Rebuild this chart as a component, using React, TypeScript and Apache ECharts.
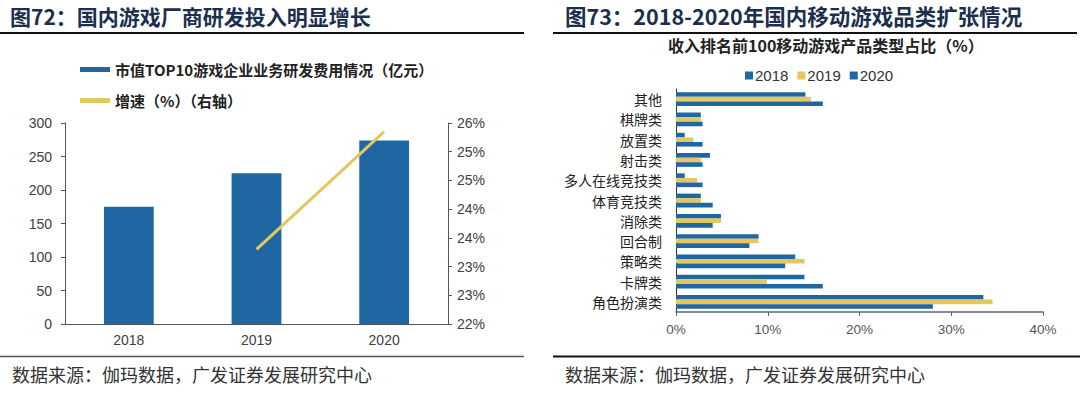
import React, { useEffect, useRef } from "react";
import * as echarts from "echarts";

// Left chart data
const years = ["2018", "2019", "2020"];
const rdExpense = [175, 225, 274];
const growth = [null, 23.3, 25.35];

// Right chart data (bottom to top)
const categories = ["角色扮演类", "卡牌类", "策略类", "回合制", "消除类", "体育竞技类", "多人在线竞技类", "射击类", "放置类", "棋牌类", "其他"];
const share2018 = [33.5, 14.0, 13.0, 9.0, 4.9, 2.7, 0.95, 3.7, 0.95, 2.7, 14.1];
const share2019 = [34.5, 9.9, 14.0, 9.0, 4.9, 2.7, 2.3, 2.7, 1.9, 2.7, 14.7];
const share2020 = [28.0, 16.0, 11.9, 8.0, 4.0, 4.0, 2.9, 2.9, 2.9, 2.9, 16.0];

const BLUE = "#1f67a3";
const YELLOW = "#e6c65f";
const CJK = "'Noto Sans CJK SC', sans-serif";
const LAT = "'Liberation Sans', Arial, sans-serif";

export default function App() {
  const ref = useRef<HTMLDivElement>(null);
  useEffect(() => {
    const chart = echarts.init(ref.current!, null, { renderer: "svg" });
    const option: any = {
      animation: false,
      backgroundColor: "#ffffff",
      graphic: [
        { type: "text", left: 10, top: 5, style: { text: "图72：国内游戏厂商研发投入明显增长", font: `bold 21px ${CJK}`, fill: "#1d2f4d" } },
        { type: "text", left: 565, top: 5, style: { text: "图73：2018-2020年国内移动游戏品类扩张情况", font: `bold 21.5px ${CJK}`, fill: "#1d2f4d" } },
        { type: "line", shape: { x1: 0, y1: 33, x2: 524, y2: 33 }, style: { stroke: "#111", lineWidth: 2 } },
        { type: "line", shape: { x1: 553, y1: 33, x2: 1077, y2: 33 }, style: { stroke: "#111", lineWidth: 2 } },
        { type: "line", shape: { x1: 0, y1: 356.5, x2: 524, y2: 356.5 }, style: { stroke: "#555", lineWidth: 1.5 } },
        { type: "line", shape: { x1: 553, y1: 356.5, x2: 1080, y2: 356.5 }, style: { stroke: "#111", lineWidth: 2 } },
        { type: "text", left: 12, top: 365, style: { text: "数据来源：伽玛数据，广发证券发展研究中心", font: `18px ${CJK}`, fill: "#333" } },
        { type: "text", left: 565, top: 365, style: { text: "数据来源：伽玛数据，广发证券发展研究中心", font: `18px ${CJK}`, fill: "#333" } },
        { type: "text", left: 668, top: 37, style: { text: "收入排名前100移动游戏产品类型占比（%）", font: `bold 16px ${CJK}`, fill: "#222" } },
      ],
      legend: [
        {
          orient: "vertical",
          left: 75,
          top: 57,
          itemWidth: 30,
          itemHeight: 5,
          itemGap: 16,
          textStyle: { fontFamily: CJK, fontWeight: "bold", fontSize: 15, color: "#222" },
          data: [
            { name: "市值TOP10游戏企业业务研发费用情况（亿元）", icon: "rect" },
            { name: "增速（%）（右轴）", icon: "rect" },
          ],
        },
        {
          left: 740,
          top: 63,
          itemWidth: 8,
          itemHeight: 8,
          itemGap: 9,
          textStyle: { fontFamily: LAT, fontSize: 15, color: "#333", padding: [0, 0, 0, -3] },
          data: [
            { name: "2018", icon: "rect" },
            { name: "2019", icon: "rect" },
            { name: "2020", icon: "rect" },
          ],
        },
      ],
      grid: [
        { left: 65, right: 632, top: 123, bottom: 69 },
        { left: 676, right: 37, top: 89, bottom: 81 },
      ],
      xAxis: [
        {
          gridIndex: 0,
          type: "category",
          data: years,
          axisLine: { lineStyle: { color: "#555" } },
          axisTick: { length: 5, lineStyle: { color: "#555" } },
          axisLabel: { fontFamily: LAT, fontSize: 14, color: "#404040", margin: 9 },
        },
        {
          gridIndex: 1,
          type: "value",
          min: 0,
          max: 40,
          interval: 10,
          axisLine: { show: true, lineStyle: { color: "#666", width: 1.5 } },
          axisTick: { show: true, length: 4, lineStyle: { color: "#666" } },
          splitLine: { show: false },
          axisLabel: { formatter: "{value}%", fontFamily: LAT, fontSize: 13.5, color: "#555", margin: 10 },
        },
      ],
      yAxis: [
        {
          gridIndex: 0,
          type: "value",
          min: 0,
          max: 300,
          interval: 50,
          axisLine: { show: true, lineStyle: { color: "#555" } },
          axisTick: { show: true, length: 4, lineStyle: { color: "#555" } },
          splitLine: { show: false },
          axisLabel: { fontFamily: LAT, fontSize: 14, color: "#404040", margin: 13 },
        },
        {
          gridIndex: 0,
          type: "value",
          position: "right",
          min: 22,
          max: 25.5,
          interval: 0.5,
          axisLine: { show: true, lineStyle: { color: "#555" } },
          axisTick: { show: true, length: 4, lineStyle: { color: "#555" } },
          splitLine: { show: false },
          axisLabel: { fontFamily: LAT, fontSize: 14, color: "#404040", margin: 9, formatter: (v: number) => Math.round(v) + "%" },
        },
        {
          gridIndex: 1,
          type: "category",
          data: categories,
          axisLine: { lineStyle: { color: "#333" } },
          axisTick: { length: 4, lineStyle: { color: "#333" } },
          axisLabel: { fontFamily: CJK, fontSize: 14, color: "#222", margin: 14 },
        },
      ],
      series: [
        {
          name: "市值TOP10游戏企业业务研发费用情况（亿元）",
          type: "bar",
          xAxisIndex: 0,
          yAxisIndex: 0,
          data: rdExpense,
          barWidth: "39%",
          itemStyle: { color: BLUE },
        },
        {
          name: "增速（%）（右轴）",
          type: "line",
          xAxisIndex: 0,
          yAxisIndex: 1,
          data: growth,
          symbol: "none",
          lineStyle: { color: YELLOW, width: 3 },
          itemStyle: { color: YELLOW },
        },
        {
          name: "2018",
          type: "bar",
          xAxisIndex: 1,
          yAxisIndex: 2,
          data: share2018,
          barGap: "0%",
          barCategoryGap: "32%",
          itemStyle: { color: BLUE },
        },
        {
          name: "2019",
          type: "bar",
          xAxisIndex: 1,
          yAxisIndex: 2,
          data: share2019,
          barGap: "0%",
          barCategoryGap: "32%",
          itemStyle: { color: YELLOW },
        },
        {
          name: "2020",
          type: "bar",
          xAxisIndex: 1,
          yAxisIndex: 2,
          data: share2020,
          barGap: "0%",
          barCategoryGap: "32%",
          itemStyle: { color: BLUE },
        },
      ],
    };
    chart.setOption(option);
    return () => chart.dispose();
  }, []);
  return <div ref={ref} style={{ position: "absolute", left: 0, top: 0, width: 1080, height: 393 }} />;
}
